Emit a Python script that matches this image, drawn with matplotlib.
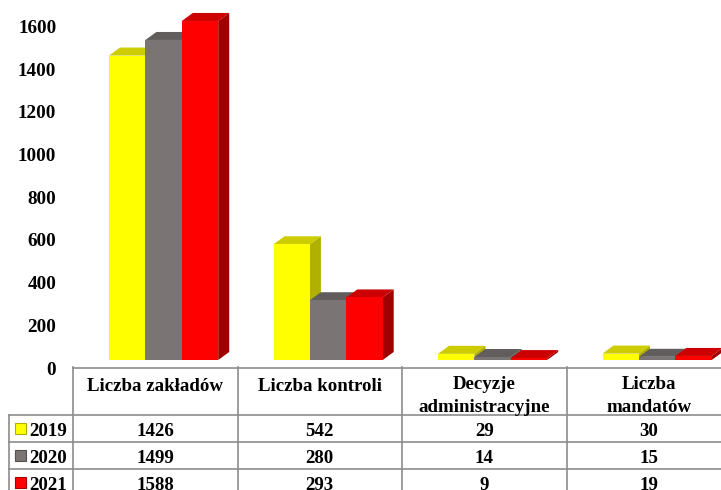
import matplotlib
matplotlib.use("Agg")
import matplotlib.pyplot as plt
from matplotlib.patches import Polygon, Rectangle

categories = ["Liczba zakładów", "Liczba kontroli", "Decyzje\nadministracyjne", "Liczba\nmandatów"]
years = ["2019", "2020", "2021"]
v2019 = [1426, 542, 29, 30]
v2020 = [1499, 280, 14, 15]
v2021 = [1588, 293, 9, 19]
series = [v2019, v2020, v2021]
y_ticks = [0, 200, 400, 600, 800, 1000, 1200, 1400, 1600]

front = ["#FFFF00", "#7A7474", "#FF0000"]
top = ["#CCCC00", "#625D5D", "#CC0000"]
side = ["#B0B000", "#555050", "#A00000"]
FONT = "Liberation Serif"
W, H = 721, 490
PX_PER_UNIT = 0.2135

fig = plt.figure(figsize=(W / 100, H / 100), dpi=100, facecolor="white")

# main axes: value 0 sits on the floor line, category cells are 164.5 px wide
ax = fig.add_axes([73 / W, (H - 368) / H, 658 / W, 368 / H])
ax.set_xlim(0, 4)
ax.set_ylim(0, 368 / PX_PER_UNIT)
ux = 658 / 4
dx = 11 / ux            # depth offset in x (category units)
dy = 8 / PX_PER_UNIT    # depth offset in y (value units)
bw = 36.4 / ux
start = 36 / ux

for c in range(len(categories)):
    for s, vals in enumerate(series):
        x0 = c + start + s * bw
        x1 = x0 + bw
        b = dy
        t = b + vals[c]
        ax.add_patch(Polygon([(x1, b), (x1 + dx, b + dy), (x1 + dx, t + dy), (x1, t)],
                             closed=True, fc=side[s], ec="none", zorder=2 + s))
        ax.add_patch(Polygon([(x0, t), (x0 + dx, t + dy), (x1 + dx, t + dy), (x1, t)],
                             closed=True, fc=top[s], ec="none", zorder=2 + s))
        ax.bar(x0, vals[c], width=bw, bottom=b, align="edge", color=front[s], zorder=2 + s)

for sp in ["top", "right", "left"]:
    ax.spines[sp].set_visible(False)
ax.spines["bottom"].set_color("#8C8C8C")
ax.spines["bottom"].set_linewidth(1.2)
ax.set_xticks([])
ax.set_yticks(y_ticks)
ax.tick_params(axis="y", length=0, pad=12)
for lab in ax.get_yticklabels():
    lab.set_fontfamily(FONT)
    lab.set_fontweight("bold")
    lab.set_fontsize(13.8)
ax.patch.set_alpha(0)

# data table under the plot, in pixel coordinates
tb = fig.add_axes([0, 0, 1, 1])
tb.set_xlim(0, W)
tb.set_ylim(H, 0)
tb.axis("off")
tb.patch.set_alpha(0)

grid = "#8C8C8C"
cols = [73 + i * 164.5 for i in range(5)]
rows = [415, 442, 469, 496]
for x in cols:
    tb.plot([x, x], [367, 496], color=grid, lw=1.2, clip_on=True)
tb.plot([9, 9], [415, 496], color=grid, lw=1.2)
for y in rows:
    tb.plot([9, W], [y, y], color=grid, lw=1.2)

txt = dict(family=FONT, fontweight="bold", fontsize=13.6, color="black", clip_on=True)
for i, name in enumerate(categories):
    tb.text((cols[i] + cols[i + 1]) / 2, 396 if "\n" in name else 386, name,
            ha="center", va="center", linespacing=1.49, **txt)
for r, (yr, vals) in enumerate(zip(years, series)):
    yc = (rows[r] + rows[r + 1]) / 2 + 3
    tb.add_patch(Rectangle((15, yc - 9), 11, 11, fc=front[r], ec=side[r], lw=0.8))
    tb.text(29, yc, yr, ha="left", va="center", **txt)
    for c, v in enumerate(vals):
        tb.text((cols[c] + cols[c + 1]) / 2, yc, str(v), ha="center", va="center", **txt)

fig.savefig("out.png", dpi=100)
